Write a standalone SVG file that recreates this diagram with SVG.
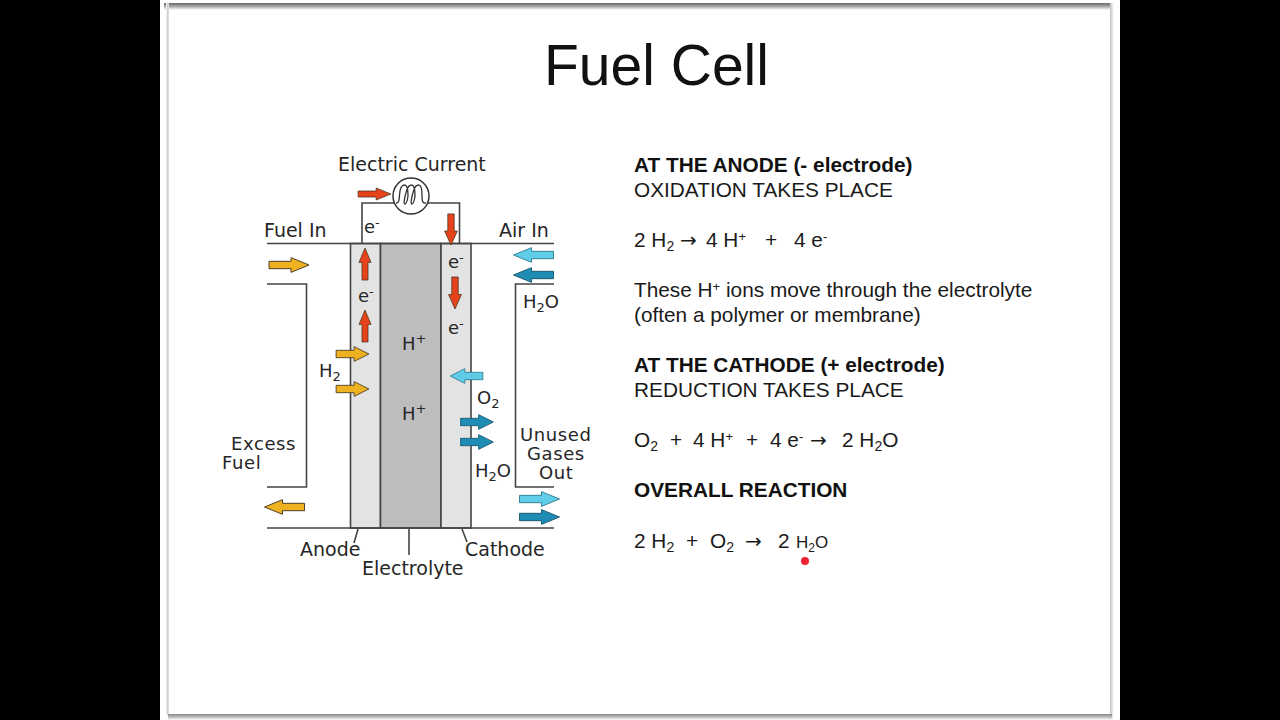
<svg xmlns="http://www.w3.org/2000/svg" xmlns:xlink="http://www.w3.org/1999/xlink" width="1280" height="720" viewBox="0 0 1280 720">
<style>
.d{font-family:"DejaVu Sans",sans-serif;font-size:19px;fill:#262626}
.m{font-size:18px}
.k{font-size:18px;letter-spacing:.6px}
.s{font-size:13px}
.t{font-family:"Liberation Sans",Arial,sans-serif;font-size:20.800px;fill:#1a1a1a}
.q{font-family:"DejaVu Sans",sans-serif;font-size:20px;fill:#1a1a1a}
.b{font-weight:bold;fill:#111}
.w{fill:none;stroke:#444;stroke-width:1.6}
.c{fill:none;stroke:#333;stroke-width:1.3}
.ar{stroke:#4a3a20;stroke-width:1}
.y{fill:#eeb120}.r{fill:#e6431d}.l{fill:#5fcde8;stroke:#2f7f95}.n{fill:#1f8cb4;stroke:#1a5870}
</style>
<defs>
<path id="a" d="M-20-4H2V-8L20 0 2 8V4H-20Z"/>
<linearGradient id="gt" x1="0" y1="0" x2="0" y2="1"><stop offset="0" stop-color="#666"/><stop offset="0.5" stop-color="#aaa"/><stop offset="1" stop-color="#fff"/></linearGradient>
<linearGradient id="gb" x1="0" y1="0" x2="0" y2="1"><stop offset="0" stop-color="#888"/><stop offset="0.5" stop-color="#bbb"/><stop offset="1" stop-color="#fff"/></linearGradient>
<linearGradient id="gs" x1="0" y1="0" x2="1" y2="0"><stop offset="0" stop-color="#fff"/><stop offset="0.6" stop-color="#c5c5c5"/><stop offset="1" stop-color="#eee"/></linearGradient>
<linearGradient id="gr" x1="0" y1="0" x2="1" y2="0"><stop offset="0" stop-color="#c0c0c0"/><stop offset="1" stop-color="#fff"/></linearGradient>
</defs>
<rect width="1280" height="720" fill="#000"/>
<rect x="160" width="960" height="720" fill="#fff"/>
<g id="page-edges">
<rect x="164" y="3" width="946" height="7" fill="url(#gt)"/>
<rect x="166" y="3" width="3" height="712" fill="url(#gs)"/>
<rect x="1110" y="3" width="4" height="716" fill="url(#gr)"/>
<rect x="168" y="714" width="944" height="6" fill="url(#gb)"/>
</g>
<text id="title" x="544" y="85" font-family="Liberation Sans,Arial,sans-serif" font-size="57" fill="#111">Fuel Cell</text>

<g id="cell">
<rect id="anode" x="350.500" y="243.500" width="30" height="284.500" fill="#e3e3e3" stroke="#444" stroke-width="1.600"/>
<rect id="electrolyte" x="380.500" y="243.500" width="60.500" height="284.500" fill="#bdbdbd" stroke="#444" stroke-width="1.600"/>
<rect id="cathode" x="441" y="243.500" width="30" height="284.500" fill="#e3e3e3" stroke="#444" stroke-width="1.600"/>
</g>
<g id="connectors">
<path class="w" d="M267 243.500H554M267 528H554"/>
<path class="w" d="M267 284H306.500V487H267M554 284H515.500V487H554"/>
<path class="w" d="M362 243V203H394M428 203H459.500V243"/>
<path class="w" d="M358 529L354 543M409 529V555M462 529L467 542"/>
</g>
<g id="meter">
<circle cx="411" cy="196" r="18" fill="#fff" stroke="#333" stroke-width="1.500"/>
<path class="c" d="M396 203C400 204 399 196 400 191C401 186 403 185 404.500 185C407 185 408 190 408 195C408 200 406 204 405 204C403 204 405 196 406.500 191C408 186 410 185 411.500 185C414 185 415 190 415 195C415 200 413 204 412 204C410 204 412 196 413.500 191C415 186 417 185 418.500 185C421 185 422 190 422 195C422 200 422 204 426 203"/>
</g>
<g id="arrows" class="ar">
<use xlink:href="#a" class="r" transform="translate(374.500 194) scale(.82 .75)"/>
<use xlink:href="#a" class="r" transform="translate(451 229.500) rotate(90) scale(.78 .8)"/>
<use xlink:href="#a" class="r" transform="translate(455 293) rotate(90) scale(.8 .8)"/>
<use xlink:href="#a" class="r" transform="translate(365 264) rotate(-90) scale(.8 .75)"/>
<use xlink:href="#a" class="r" transform="translate(365 326) rotate(-90) scale(.8 .75)"/>
<use xlink:href="#a" class="y" transform="translate(289 265) scale(1 .92)"/>
<use xlink:href="#a" class="y" transform="translate(352.500 354) scale(.82 .92)"/>
<use xlink:href="#a" class="y" transform="translate(352.500 389) scale(.82 .92)"/>
<use xlink:href="#a" class="y" transform="translate(284.500 507) rotate(180) scale(1 .92)"/>
<use xlink:href="#a" class="l" transform="translate(533.500 255) rotate(180) scale(1 .92)"/>
<use xlink:href="#a" class="n" transform="translate(533.500 275) rotate(180) scale(1 .92)"/>
<use xlink:href="#a" class="l" transform="translate(466.500 376) rotate(180) scale(.82 .92)"/>
<use xlink:href="#a" class="n" transform="translate(477 422) scale(.82 .92)"/>
<use xlink:href="#a" class="n" transform="translate(477 442) scale(.82 .92)"/>
<use xlink:href="#a" class="l" transform="translate(539.500 499) scale(1 .92)"/>
<use xlink:href="#a" class="n" transform="translate(539.500 517) scale(1 .92)"/>
</g>
<g id="diagram-labels">
<text class="d" x="338" y="171">Electric Current</text>
<text class="d" x="264" y="237">Fuel In</text>
<text class="d" x="499" y="237">Air In</text>
<text class="d m" x="364" y="233">e<tspan class="s" dy="-6">-</tspan></text>
<text class="d m" x="358" y="302">e<tspan class="s" dy="-6">-</tspan></text>
<text class="d m" x="448" y="268">e<tspan class="s" dy="-6">-</tspan></text>
<text class="d m" x="448" y="334">e<tspan class="s" dy="-6">-</tspan></text>
<text class="d m" x="319" y="377">H<tspan class="s" dy="4">2</tspan></text>
<text class="d m" x="523" y="308">H<tspan class="s" dy="4">2</tspan><tspan dy="-4">O</tspan></text>
<text class="d m" x="402" y="350">H<tspan class="s" dy="-7">+</tspan></text>
<text class="d m" x="402" y="420">H<tspan class="s" dy="-7">+</tspan></text>
<text class="d m" x="477" y="404">O<tspan class="s" dy="4">2</tspan></text>
<text class="d m" x="475" y="477">H<tspan class="s" dy="4">2</tspan><tspan dy="-4">O</tspan></text>
<text class="d k" x="231" y="450">Excess</text>
<text class="d k" x="222" y="469">Fuel</text>
<text class="d k" x="520" y="441">Unused</text>
<text class="d k" x="527" y="460">Gases</text>
<text class="d k" x="539" y="479">Out</text>
<text class="d" x="300" y="556">Anode</text>
<text class="d" x="362" y="575">Electrolyte</text>
<text class="d" x="465" y="556">Cathode</text>
</g>
<g id="equations" class="t">
<text class="t b" x="634" y="172">AT THE ANODE (- electrode)</text>
<text class="t" x="634" y="197">OXIDATION TAKES PLACE</text>
<text class="t" x="634" y="247">2 H<tspan font-size="14" dy="4">2</tspan></text>
<text class="q" x="680" y="247">→</text>
<text class="t" x="706" y="247">4 H<tspan font-size="13" dy="-6">+</tspan></text>
<text class="t" x="765" y="247">+</text>
<text class="t" x="794" y="247">4 e<tspan font-size="13" dy="-6">-</tspan></text>
<text class="t" x="634" y="297">These H<tspan font-size="13" dy="-6">+</tspan><tspan dy="6"> ions move through the electrolyte</tspan></text>
<text class="t" x="634" y="322">(often a polymer or membrane)</text>
<text class="t b" x="634" y="372">AT THE CATHODE (+ electrode)</text>
<text class="t" x="634" y="397">REDUCTION TAKES PLACE</text>
<text class="t" x="634" y="447">O<tspan font-size="14" dy="4">2</tspan></text>
<text class="t" x="670" y="447">+</text>
<text class="t" x="693" y="447">4 H<tspan font-size="13" dy="-6">+</tspan></text>
<text class="t" x="746" y="447">+</text>
<text class="t" x="770" y="447">4 e<tspan font-size="13" dy="-6">-</tspan></text>
<text class="q" x="810" y="447">→</text>
<text class="t" x="842" y="447">2 H<tspan font-size="14" dy="4">2</tspan><tspan dy="-4">O</tspan></text>
<text class="t b" x="634" y="497">OVERALL REACTION</text>
<text class="t" x="634" y="548">2 H<tspan font-size="14" dy="4">2</tspan></text>
<text class="t" x="686" y="548">+</text>
<text class="t" x="710" y="548">O<tspan font-size="14" dy="4">2</tspan></text>
<text class="q" x="745" y="548">→</text>
<text class="t" x="778" y="548">2</text>
<text class="t" x="796" y="548" style="font-size:17px">H<tspan font-size="12" dy="4">2</tspan><tspan dy="-4">O</tspan></text>
</g>
<circle id="pointer" cx="805" cy="561" r="4" fill="#ee2233"/>
</svg>
